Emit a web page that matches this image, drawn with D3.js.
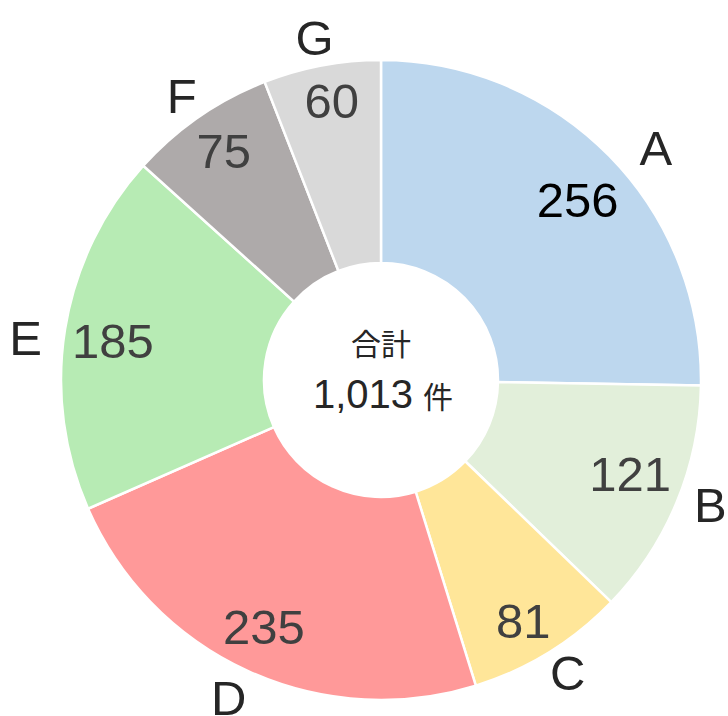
<!DOCTYPE html>
<html>
<head>
<meta charset="utf-8">
<script src="https://cdn.jsdelivr.net/npm/d3@7"></script>
<style>
  html, body { margin: 0; padding: 0; background: #fff; }
  svg { display: block; }
</style>
</head>
<body>
<div id="chart"></div>
<script>
// Category names, counts and slice colours
const categories = ["A", "B", "C", "D", "E", "F", "G"];
const counts = [256, 121, 81, 235, 185, 75, 60];
const colors = ["#BDD7EE", "#E2EFDA", "#FFE699", "#FF9999", "#B7EBB4", "#AEAAAA", "#D9D9D9"];
const valueColors = ["#000000", "#404040", "#404040", "#404040", "#404040", "#404040", "#404040"];
const totalLabel = "合計";
const unitLabel = "件";

// Label placement: angle nudge (degrees) from the slice middle and distance from centre
const nameNudge = [4.3, -1.8, -0.9, 1.1, -2.4, -0.4, -0.3];
const nameDist = [360, 352, 347, 352, 358, 347, 349];
const valueNudge = [1.9, -2.0, 1.0, 0.9, -0.7, 0.2, 0.7];
const valueDist = [267, 266, 279, 273, 271, 278, 284];

const width = 728, height = 716;
const cx = 381, cy = 380;
const outerR = 320, innerR = 117;

const data = categories.map((c, i) => ({ name: c, value: counts[i], color: colors[i], vcolor: valueColors[i], i }));

const svg = d3.select("#chart").append("svg")
  .attr("width", width).attr("height", height);

const g = svg.append("g").attr("transform", `translate(${cx},${cy})`);

const pie = d3.pie().value(d => d.value).sort(null);
const arcs = pie(data);

const arc = d3.arc().innerRadius(innerR).outerRadius(outerR);

// polar position around the slice's middle angle
function polar(d, nudgeDeg, r) {
  const a = (d.startAngle + d.endAngle) / 2 + nudgeDeg * Math.PI / 180;
  return [r * Math.sin(a), -r * Math.cos(a)];
}

g.selectAll("path.slice").data(arcs).join("path")
  .attr("class", "slice")
  .attr("d", arc)
  .attr("fill", d => d.data.color)
  .attr("stroke", "#fff")
  .attr("stroke-width", 2.5);

const font = "'Liberation Sans', Arial, sans-serif";

g.selectAll("text.value").data(arcs).join("text")
  .attr("class", "value")
  .attr("transform", d => `translate(${polar(d, valueNudge[d.data.i], valueDist[d.data.i])})`)
  .attr("text-anchor", "middle")
  .attr("dy", "0.358em")
  .attr("font-family", font)
  .attr("font-size", 49)
  .attr("fill", d => d.data.vcolor)
  .text(d => d.data.value);

g.selectAll("text.name").data(arcs).join("text")
  .attr("class", "name")
  .attr("transform", d => `translate(${polar(d, nameNudge[d.data.i], nameDist[d.data.i])})`)
  .attr("text-anchor", "middle")
  .attr("dy", "0.358em")
  .attr("font-family", font)
  .attr("font-size", 49)
  .attr("fill", "#262626")
  .text(d => d.data.name);

// Total in the centre hole
const total = d3.sum(counts);
g.append("text")
  .attr("x", 0).attr("y", -38)
  .attr("text-anchor", "middle")
  .attr("dominant-baseline", "central")
  .attr("font-family", "'Noto Sans CJK JP', sans-serif")
  .attr("font-size", 30)
  .attr("fill", "#262626")
  .text(totalLabel);

const t = g.append("text")
  .attr("x", 2).attr("y", 28)
  .attr("text-anchor", "middle")
  .attr("font-family", font)
  .attr("fill", "#262626");
t.append("tspan").attr("font-size", 40).text(d3.format(",")(total));
t.append("tspan").attr("font-size", 30).attr("dx", 10)
  .attr("font-family", "'Noto Sans CJK JP', sans-serif").text(unitLabel);
</script>
</body>
</html>
